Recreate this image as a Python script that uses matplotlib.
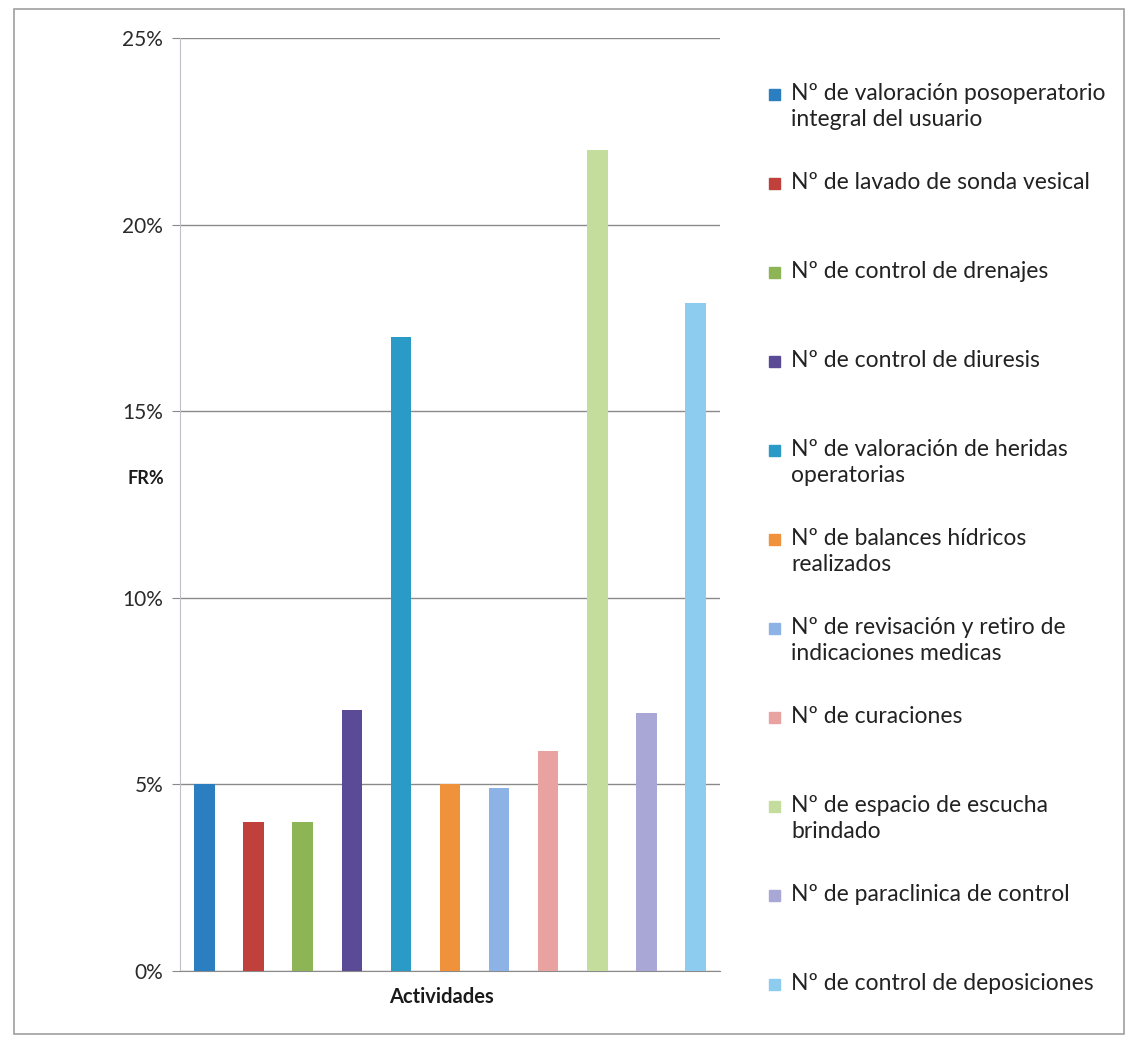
import numpy as np
import matplotlib.pyplot as plt
from matplotlib.patches import Rectangle
from matplotlib.ticker import FuncFormatter

# actividades y su frecuencia relativa (%)
actividades = [
    "Nº de valoración posoperatorio\nintegral del usuario",
    "Nº de lavado de sonda vesical",
    "Nº de control de drenajes",
    "Nº de control de diuresis",
    "Nº de valoración de heridas\noperatorias",
    "Nº de balances hídricos\nrealizados",
    "Nº de revisación y retiro de\nindicaciones medicas",
    "Nº de curaciones",
    "Nº de espacio de escucha\nbrindado",
    "Nº de paraclinica de control",
    "Nº de control de deposiciones",
]
fr = [5, 4, 4, 7, 17, 5, 4.9, 5.9, 22, 6.9, 17.9]
colores = ["#2b7fc0", "#c0413b", "#8db556", "#5b4b97", "#2a9bc6", "#f0913b",
           "#8db3e6", "#e8a3a1", "#c4dd9c", "#a9a7d6", "#8dcbef"]
yticks = [0, 5, 10, 15, 20, 25]

plt.rcParams['font.family'] = ['Lato', 'DejaVu Sans']

W, H = 1128, 1038
fig = plt.figure(figsize=(W / 100, H / 100), dpi=100)

# marco exterior
fig.patches.append(Rectangle((14 / W, 1 - 1034 / H), 1110 / W, 1025 / H,
                             transform=fig.transFigure, fill=False,
                             edgecolor="#a0a0a0", lw=1.2))

ax = fig.add_axes([180 / W, 1 - 971 / H, 540 / W, 933 / H])
x = np.arange(len(fr))
ax.bar(x, fr, width=0.42, color=colores, zorder=3)
ax.set_xlim(-0.5, len(fr) - 0.5)
ax.set_ylim(0, 25)
ax.set_yticks(yticks)
ax.yaxis.set_major_formatter(FuncFormatter(lambda v, p: f"{v:.0f}%"))
ax.set_xticks([])
ax.grid(axis="y", color="#8a8a8a", lw=1, zorder=0)
for s in ["top", "right"]:
    ax.spines[s].set_visible(False)
ax.spines["left"].set_color("#c0c0c8")
ax.spines["bottom"].set_color("#8a8a8a")
ax.tick_params(axis="y", length=6, color="#8a8a8a", labelsize=15,
               labelcolor="#2a2a2a", pad=6)

fig.text(146 / W, 1 - 478 / H, "FR%", fontsize=13, fontweight="bold",
         ha="center", va="center", color="#1a1a1a")
fig.text(441 / W, 1 - 997 / H, "Actividades", fontsize=14.5, fontweight="bold",
         ha="center", va="center", color="#1a1a1a")

# leyenda manual (el cuadro se alinea con la primera línea)
for i, (lab, c) in enumerate(zip(actividades, colores)):
    yc = 94 + 89 * i
    fig.patches.append(Rectangle((769 / W, 1 - (yc + 6) / H), 11 / W, 11 / H,
                                 transform=fig.transFigure, color=c))
    fig.text(791 / W, 1 - (yc - 11) / H, lab, fontsize=16.5, ha="left",
             va="top", color="#222222", linespacing=1.3)

fig.savefig("out.png", dpi=100)
